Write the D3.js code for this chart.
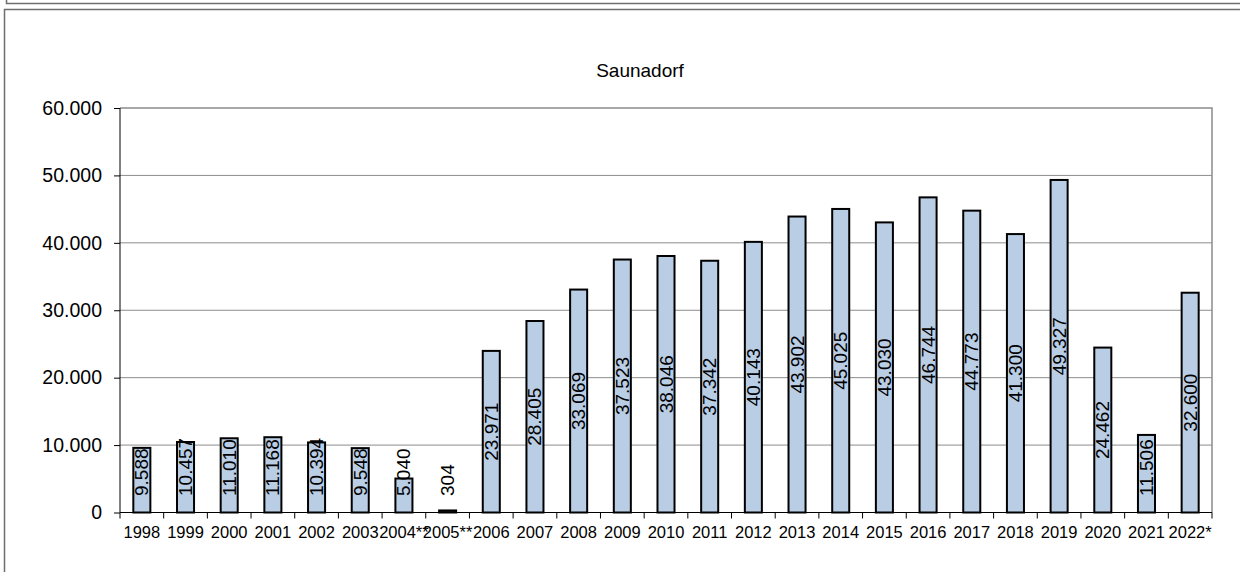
<!DOCTYPE html>
<html>
<head>
<meta charset="utf-8">
<script src="https://cdn.jsdelivr.net/npm/d3@7"></script>
<style>
    body { margin: 0; background: #fff; }
    text { font-family: Arial, "Liberation Sans", sans-serif; fill: #000; }
    .frame { fill: none; stroke: #6e6e6e; stroke-width: 1.5; }
    .grid line { stroke: #8c8c8c; stroke-width: 1; }
    .plotBorder { fill: none; stroke: #8c8c8c; stroke-width: 1.5; }
    .bars { fill: #b9cde5; stroke: #000; stroke-width: 2; }
</style>
</head>
<body>
<script>
(function(){

    //chart data
    var years = ["1998", "1999", "2000", "2001", "2002", "2003", "2004**", "2005**", "2006", "2007",
        "2008", "2009", "2010", "2011", "2012", "2013", "2014", "2015", "2016", "2017",
        "2018", "2019", "2020", "2021", "2022*"];
    var visitors = [9588, 10457, 11010, 11168, 10394, 9548, 5040, 304, 23971, 28405,
        33069, 37523, 38046, 37342, 40143, 43902, 45025, 43030, 46744, 44773,
        41300, 49327, 24462, 11506, 32600];
    var yTicks = [0, 10000, 20000, 30000, 40000, 50000, 60000];
    var chartTitle = "Saunadorf";

    window.onload = setChart();

    function setChart(){
        var width = 1240,
            height = 572,
            left = 120,
            right = 1212,
            top = 108,
            bottom = 512.5;

        //german number format (thousands with a dot)
        var de = d3.formatLocale({decimal: ",", thousands: ".", grouping: [3], currency: ["", " €"]});
        var fmt = de.format(",d");

        var svg = d3.select("body")
            .append("svg")
            .attr("width", width)
            .attr("height", height);

        //frames around the chart
        svg.append("path")
            .attr("class", "frame")
            .attr("d", "M6.5,0 V3.5 H1240");
        svg.append("rect")
            .attr("class", "frame")
            .attr("x", 4.5)
            .attr("y", 9.5)
            .attr("width", 1300)
            .attr("height", 700);

        var x = d3.scaleBand()
            .domain(years)
            .range([left, right]);

        var y = d3.scaleLinear()
            .domain([0, 60000])
            .range([bottom, top]);

        //horizontal gridlines
        svg.append("g")
            .attr("class", "grid")
            .selectAll("line")
            .data(yTicks.slice(1, -1))
            .enter()
            .append("line")
            .attr("x1", left)
            .attr("x2", right)
            .attr("y1", function(d){ return y(d); })
            .attr("y2", function(d){ return y(d); });

        //plot border top and right
        svg.append("path")
            .attr("class", "plotBorder")
            .attr("d", "M" + left + "," + y(60000) + " H" + right + " V" + bottom);

        //bars
        var barW = x.bandwidth() * 0.39;
        svg.selectAll(".bars")
            .data(visitors)
            .enter()
            .append("rect")
            .attr("class", "bars")
            .attr("x", function(d, i){ return x(years[i]) + (x.bandwidth() - barW) / 2; })
            .attr("y", function(d){ return y(d); })
            .attr("width", barW)
            .attr("height", function(d){ return bottom - y(d); });

        //y axis
        var yAxis = svg.append("g")
            .attr("transform", "translate(" + left + ",0)")
            .call(d3.axisLeft(y).tickValues(yTicks).tickFormat(fmt).tickSize(6).tickPadding(12));
        yAxis.select(".domain").attr("stroke", "#000").attr("d", "M0," + top + " V" + bottom);
        yAxis.selectAll("text").style("font-size", "19.5px");

        //x axis line and category ticks
        var xAxis = svg.append("g")
            .attr("transform", "translate(0," + bottom + ")");
        xAxis.append("line")
            .attr("x1", left)
            .attr("x2", right)
            .attr("stroke", "#000");
        xAxis.selectAll(".catTick")
            .data(d3.range(years.length + 1))
            .enter()
            .append("line")
            .attr("class", "catTick")
            .attr("x1", function(i){ return left + i * x.step(); })
            .attr("x2", function(i){ return left + i * x.step(); })
            .attr("y1", 0)
            .attr("y2", 6)
            .attr("stroke", "#000");
        xAxis.selectAll(".catLabel")
            .data(years)
            .enter()
            .append("text")
            .attr("class", "catLabel")
            .attr("text-anchor", "middle")
            .attr("x", function(d){ return x(d) + x.bandwidth() / 2; })
            .attr("y", 25.5)
            .style("font-size", "16.5px")
            .text(function(d){ return d; });

        //value labels, rotated, centred in bar but kept above the axis
        svg.selectAll(".numbers")
            .data(visitors)
            .enter()
            .append("text")
            .attr("class", "numbers")
            .attr("text-anchor", "middle")
            .attr("dominant-baseline", "central")
            .style("font-size", "19px")
            .text(function(d){ return fmt(d); })
            .each(function(d, i){
                var len = this.getComputedTextLength();
                var cy = Math.min((y(d) + bottom) / 2, 496 - len / 2);
                var cx = x(years[i]) + x.bandwidth() / 2;
                d3.select(this).attr("transform", "translate(" + cx + "," + cy + ") rotate(-90)");
            });

        //title
        svg.append("text")
            .attr("x", 640)
            .attr("y", 77)
            .attr("text-anchor", "middle")
            .style("font-size", "19px")
            .text(chartTitle);
    };

})();
</script>
</body>
</html>
